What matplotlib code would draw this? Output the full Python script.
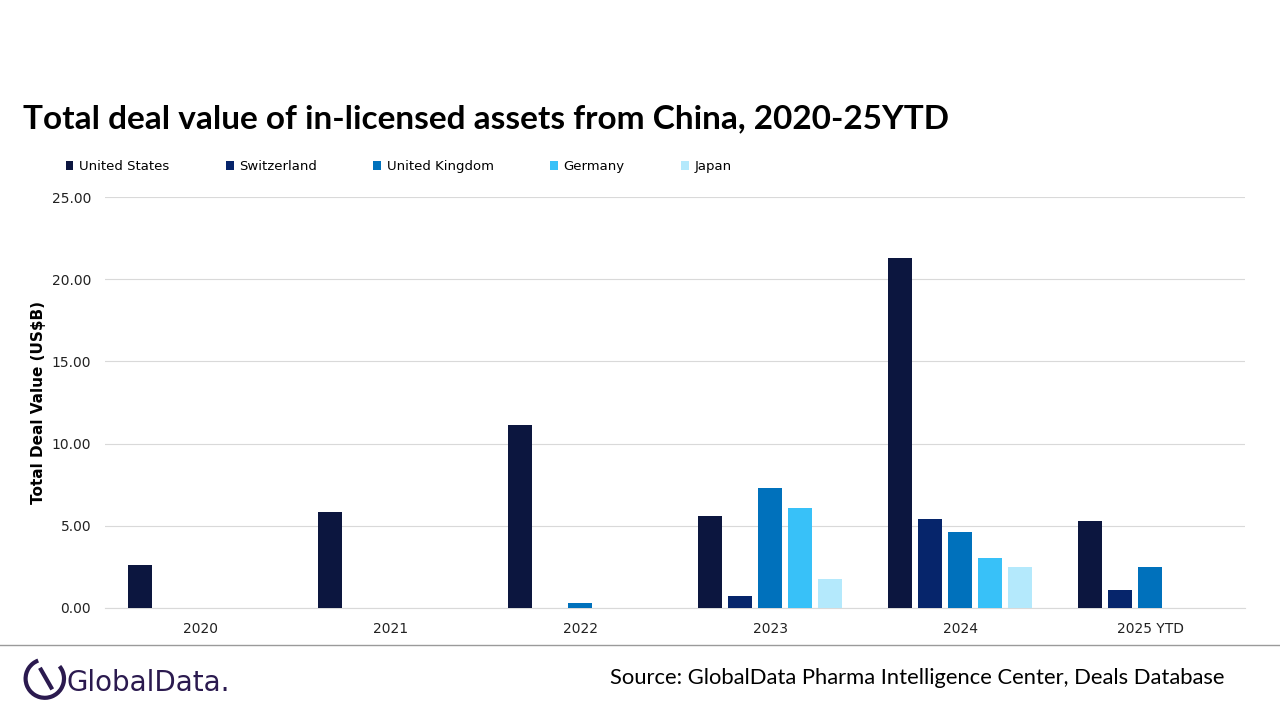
import numpy as np
import matplotlib.pyplot as plt
from matplotlib.patches import Arc

years = ["2020", "2021", "2022", "2023", "2024", "2025 YTD"]
countries = ["United States", "Switzerland", "United Kingdom", "Germany", "Japan"]
united_states = [2.6, 5.8, 11.1, 5.6, 21.3, 5.25]
switzerland = [0, 0, 0, 0.7, 5.4, 1.1]
united_kingdom = [0, 0, 0.3, 7.3, 4.6, 2.45]
germany = [0, 0, 0, 6.1, 3.0, 0]
japan = [0, 0, 0, 1.75, 2.5, 0]
series = [united_states, switzerland, united_kingdom, germany, japan]
colors = ["#0c163f", "#06256b", "#0071bc", "#38c1f8", "#b4e9fc"]

fig = plt.figure(figsize=(12.8, 7.2), dpi=100)
ax = fig.add_axes([0.082, 0.156, 0.891, 0.57])

x = np.arange(len(years))
step = 0.158
width = 0.126
for i, (vals, c) in enumerate(zip(series, colors)):
    vals = np.array(vals, dtype=float)
    mask = vals > 0
    ax.bar(x[mask] + (i - 2) * step, vals[mask], width, color=c, label=countries[i], zorder=3)

ax.set_xlim(-0.5, 5.5)
ax.set_ylim(0, 25)
ax.set_yticks(np.arange(0, 26, 5))
ax.set_yticklabels([f"{v:.2f}" for v in np.arange(0, 26, 5)])
ax.set_xticks(x)
ax.set_xticklabels(years)
ax.tick_params(length=0, labelsize=10, colors="#222222", pad=10)
ax.grid(axis="y", color="#d9d9d9", linewidth=0.8, zorder=0)
for s in ["top", "right", "left"]:
    ax.spines[s].set_visible(False)
ax.spines["bottom"].set_color("#d9d9d9")
ax.set_ylabel("Total Deal Value (US$B)", fontsize=11, fontweight="bold", labelpad=4)

ax.legend(loc="lower left", bbox_to_anchor=(-0.045, 1.03), ncol=5, frameon=False,
          fontsize=9.5, handlelength=0.6, handleheight=0.6, columnspacing=4.3, handletextpad=0.4)

fig.text(0.018, 0.835, "Total deal value of in-licensed assets from China, 2020-25YTD",
         fontsize=24, fontweight="bold", family="Lato", color="black", va="center")

fig.add_artist(plt.Line2D([0, 1], [0.104, 0.104], color="#9a9a9a", linewidth=1))
fig.text(0.957, 0.059, "Source: GlobalData Pharma Intelligence Center, Deals Database",
         fontsize=15.8, family="Lato", ha="right", va="center")

# logo
lax = fig.add_axes([0.015, 0.02, 0.04, 0.075])
lax.set_xlim(-1, 1); lax.set_ylim(-1, 1); lax.set_aspect("equal"); lax.axis("off")
lax.add_patch(Arc((0, 0), 1.5, 1.5, theta1=110, theta2=400, color="#2b1a4f", linewidth=3))
lax.plot([-0.15, 0.25], [0.35, -0.35], color="#2b1a4f", linewidth=3)
fig.text(0.052, 0.052, "GlobalData.", fontsize=20, color="#2b1a4f", va="center")

fig.savefig("out.png", dpi=100)
